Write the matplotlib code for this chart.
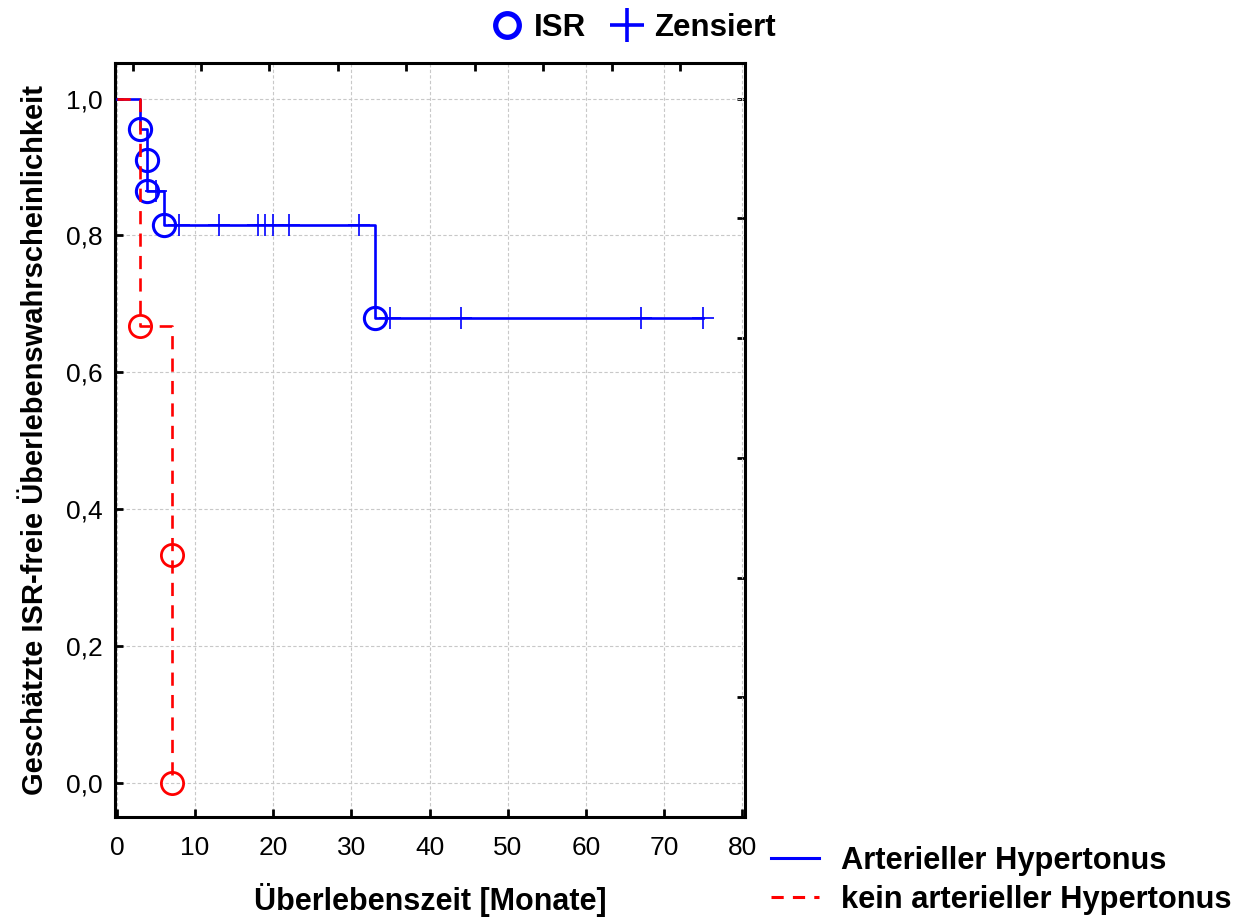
import matplotlib
matplotlib.use("Agg")
import matplotlib.pyplot as plt
from matplotlib.lines import Line2D
from matplotlib.ticker import FuncFormatter

plt.rcParams["font.family"] = ["Liberation Sans", "DejaVu Sans"]

# ========= datos =========
# Arterieller Hypertonus (Treppenfunktion)
ah_t = [0, 3, 3.8, 3.8, 6, 33, 75]
ah_s = [1.0, 0.955, 0.910, 0.865, 0.815, 0.679, 0.679]
ah_evt_t = [3, 3.8, 3.8, 6, 33]
ah_evt_s = [0.955, 0.910, 0.865, 0.815, 0.679]
ah_cens_t = [5, 8, 13, 18, 19, 20, 22, 31, 35, 44, 67, 75]
ah_cens_s = [0.865, 0.815, 0.815, 0.815, 0.815, 0.815, 0.815, 0.815,
             0.679, 0.679, 0.679, 0.679]

# kein arterieller Hypertonus
kh_t = [0, 3, 7, 7]
kh_s = [1.0, 0.667, 0.333, 0.0]
kh_evt_t = [3, 7, 7]
kh_evt_s = [0.667, 0.333, 0.0]

x_ticks = [0, 10, 20, 30, 40, 50, 60, 70, 80]
y_ticks = [0.0, 0.2, 0.4, 0.6, 0.8, 1.0]
top_ticks = [2.0, 10.7, 19.5, 28.3, 37.0, 45.8, 54.5, 63.3, 72.1]
right_ticks = [1.0, 0.825, 0.65, 0.475, 0.30, 0.125]

# ========= figura =========
fig = plt.figure(figsize=(12.46, 9.18), dpi=100)
ax = fig.add_axes([0.0923, 0.110, 0.5058, 0.821])

blue = "#0000ff"
red = "#ff0000"
dash = (0, (5, 3.5))

ax.step(ah_t, ah_s, where="post", color=blue, lw=1.9, zorder=3)
ax.plot(ah_evt_t, ah_evt_s, "o", ms=16, mfc="none", mec=blue, mew=2.2, zorder=4)
ax.plot(ah_cens_t, ah_cens_s, "+", ms=16, mec=blue, mew=1.2, zorder=4)

ax.step(kh_t, kh_s, where="post", color=red, lw=1.9, ls=dash, zorder=5)
ax.plot(kh_evt_t, kh_evt_s, "o", ms=16, mfc="none", mec=red, mew=2.0, zorder=5)

ax.set_xlim(-0.25, 80.4)
ax.set_ylim(-0.05, 1.0515)
ax.set_xticks(x_ticks)
ax.set_yticks(y_ticks)
ax.yaxis.set_major_formatter(FuncFormatter(lambda v, p: f"{v:.1f}".replace(".", ",")))
ax.grid(True, color="#c8c8c8", ls=(0, (3, 2)), lw=0.8)
ax.tick_params(direction="in", length=6, width=2, labelsize=19)
ax.tick_params(axis="x", pad=14)
ax.tick_params(axis="y", pad=9)

for s in ax.spines.values():
    s.set_linewidth(2.2)

# ticks secundarios (arriba / derecha)
sec_x = ax.secondary_xaxis("top")
sec_x.set_xticks(top_ticks)
sec_x.tick_params(direction="in", length=6, width=2, labeltop=False)
sec_y = ax.secondary_yaxis("right")
sec_y.set_yticks(right_ticks)
sec_y.tick_params(direction="in", length=6, width=2, labelright=False)

ax.set_xlabel("Überlebenszeit [Monate]", fontsize=22, fontweight="bold", labelpad=16)
ax.set_ylabel("Geschätzte ISR-freie Überlebenswahrscheinlichkeit",
              fontsize=21, fontweight="bold", labelpad=12)

# leyenda superior
top_handles = [
    Line2D([], [], marker="o", ls="none", ms=17, mfc="none", mec=blue, mew=3.8),
    Line2D([], [], marker="+", ls="none", ms=24, mec=blue, mew=2.6),
]
fig.legend(top_handles, ["ISR", "Zensiert"], loc="upper center",
           bbox_to_anchor=(0.505, 1.016), ncol=2, frameon=False,
           handlelength=1.5, handletextpad=0.12, columnspacing=0.55,
           prop={"size": 22.5, "weight": "bold"})

# leyenda inferior
bot_handles = [
    Line2D([], [], color=blue, lw=2.2),
    Line2D([], [], color=red, lw=2.2, ls=(0, (4, 3))),
]
fig.legend(bot_handles, ["Arterieller Hypertonus", "kein arterieller Hypertonus"],
           loc="lower right", bbox_to_anchor=(1.003, -0.017), frameon=False,
           handlelength=1.55, handletextpad=0.7, labelspacing=0.3,
           borderaxespad=0.2, prop={"size": 22.2, "weight": "bold"})

fig.savefig("out.png", dpi=100)
